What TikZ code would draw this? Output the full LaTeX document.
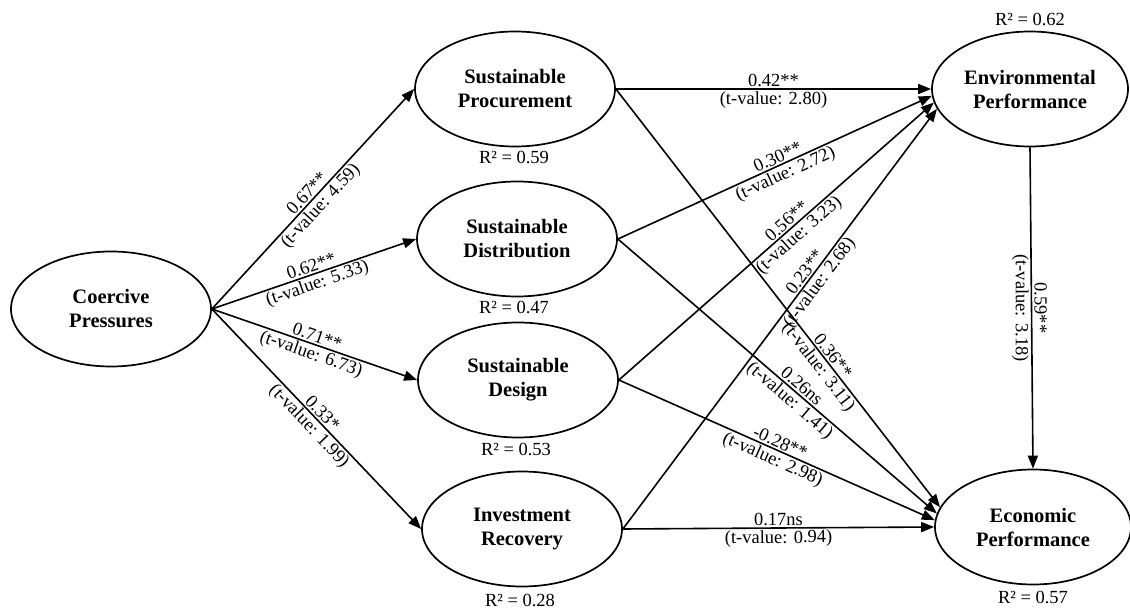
\documentclass[tikz,border=0pt]{standalone}
\usepackage{fontspec}
\setmainfont{Liberation Serif}
\usetikzlibrary{shapes.geometric,arrows.meta}
\begin{document}
\begin{tikzpicture}[x=1pt,y=-1pt,
  construct/.style={ellipse,draw,line width=1.7pt,minimum width=200pt,minimum height=115pt,inner sep=0pt,align=center,font=\fontsize{20.5}{24}\selectfont\bfseries},
  rsq/.style={font=\fontsize{18.5}{20}\selectfont,inner sep=0pt},
  link/.style={line width=1.6pt,-{Triangle[length=13pt,width=10pt]}},
  coef/.style={font=\fontsize{18.5}{20}\selectfont,sloped,above,inner sep=1.5pt},
  tval/.style={font=\fontsize{18.5}{20}\selectfont,sloped,below,inner sep=1.5pt},
  vcoef/.style={font=\fontsize{18.5}{20}\selectfont,rotate=-90,anchor=south,inner sep=2pt},
  vtval/.style={font=\fontsize{18.5}{20}\selectfont,rotate=-90,anchor=north,inner sep=2pt}]
\useasboundingbox[fill=white] (0,0) rectangle (1130,609);

\node[construct] (CP) at (111,309) {Coercive\\Pressures};
\node[construct] (SP) at (515,89) {Sustainable\\Procurement};
\node[construct] (SD) at (517,239) {Sustainable\\Distribution};
\node[construct] (SG) at (518,380) {Sustainable\\Design};
\node[construct] (IR) at (522,529) {Investment\\Recovery};
\node[construct,minimum width=196pt] (EP) at (1030,89) {Environmental\\Performance};
\node[construct,minimum width=196pt] (EC) at (1033,527) {Economic\\Performance};

\node[rsq] (rSP) at (514,157) {R² = 0.59};
\node[rsq] (rSD) at (514,307) {R² = 0.47};
\node[rsq] (rSG) at (516,449) {R² = 0.53};
\node[rsq] (rIR) at (520,600) {R² = 0.28};
\node[rsq] (rEP) at (1030,19) {R² = 0.62};
\node[rsq] (rEC) at (1033,597) {R² = 0.57};

\draw[link] (CP.east) -- node[coef]{0.67**} node[tval]{(t-value: 4.59)} (SP.west);
\draw[link] (CP.east) -- node[coef]{0.62**} node[tval]{(t-value: 5.33)} (SD.west);
\draw[link] (CP.east) -- node[coef]{0.71**} node[tval]{(t-value: 6.73)} (SG.west);
\draw[link] (CP.east) -- node[coef]{0.33*} node[tval]{(t-value: 1.99)} (IR.west);

\draw[link] (SP.east) -- node[coef]{0.42**} node[tval]{(t-value: 2.80)} (EP.west);
\draw[link] (SP.east) -- node[coef,pos=0.65]{0.36**} node[tval,pos=0.65]{(t-value: 3.11)} (EC.168);
\draw[link] (SD.east) -- node[coef,pos=0.52]{0.30**} node[tval,pos=0.52]{(t-value: 2.72)} (EP.184);
\draw[link] (SD.east) -- node[coef,pos=0.56]{0.26ns} node[tval,pos=0.56]{(t-value: 1.41)} (EC.172);
\draw[link] (SG.east) -- node[coef,pos=0.55]{0.56**} node[tval,pos=0.55]{(t-value: 3.23)} (EP.188);
\draw[link] (SG.east) -- node[coef,pos=0.5]{-0.28**} node[tval,pos=0.5]{(t-value: 2.98)} (EC.176);
\draw[link] (IR.east) -- node[coef,pos=0.6]{0.23**} node[tval,pos=0.6]{(t-value: 2.68)} (EP.192);
\draw[link] (IR.east) -- node[coef]{0.17ns} node[tval]{(t-value: 0.94)} (EC.west);
\draw[link] (EP.south) -- node[vcoef]{0.59**} node[vtval]{(t-value: 3.18)} (EC.north);
\end{tikzpicture}
\end{document}
